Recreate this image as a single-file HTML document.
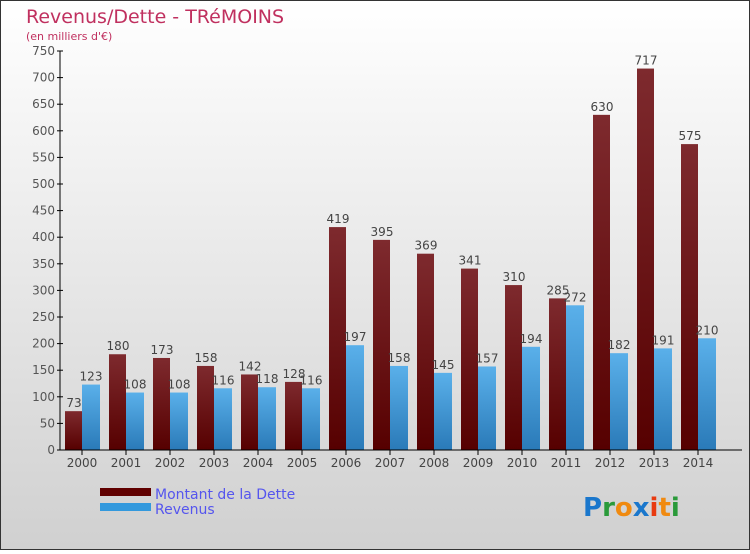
<!DOCTYPE html>
<html><head><meta charset="utf-8"><style>
body{margin:0}
#c{width:750px;height:550px;position:relative;font-family:"DejaVu Sans","Liberation Sans",sans-serif;}
</style></head><body>
<div id="c">
<svg width="750" height="550" xmlns="http://www.w3.org/2000/svg" id="svg">
<defs>
<linearGradient id="bg" x1="0" y1="0" x2="0" y2="1"><stop offset="0" stop-color="#ffffff"/><stop offset="1" stop-color="#d0d0d0"/></linearGradient>
<linearGradient id="gd" x1="0" y1="0" x2="0" y2="1"><stop offset="0" stop-color="#7e2a2e"/><stop offset="1" stop-color="#560000"/></linearGradient>
<linearGradient id="gr" x1="0" y1="0" x2="0" y2="1"><stop offset="0" stop-color="#5ab0ea"/><stop offset="1" stop-color="#2a7ab8"/></linearGradient>
</defs>
<rect x="0.5" y="0.5" width="749" height="549" fill="url(#bg)" stroke="#333" stroke-width="1"/>
<text x="26" y="23" font-size="19" fill="#c0305f">Revenus/Dette - TRéMOINS</text>
<text x="26" y="40" font-size="11" fill="#c0305f">(en milliers d'€)</text>
<g id="plot"></g>
<rect x="100" y="488" width="51" height="8" fill="#600000"/>
<rect x="100" y="503" width="51" height="8" fill="#3399dd"/>
<text x="155" y="499" font-size="14" fill="#5555ee">Montant de la Dette</text>
<text x="155" y="514" font-size="14" fill="#5555ee">Revenus</text>
<g font-size="26" font-family="'DejaVu Sans',sans-serif" font-weight="bold">
<text x="583" y="516"><tspan fill="#1a77cc">P</tspan><tspan fill="#2a9a3a">r</tspan><tspan fill="#f08a10">o</tspan><tspan fill="#1a77cc">x</tspan><tspan fill="#e83a10">i</tspan><tspan fill="#f08a10">t</tspan><tspan fill="#2a9a3a">i</tspan></text>
</g>
</svg>
</div>
<script>
const years=["2000","2001","2002","2003","2004","2005","2006","2007","2008","2009","2010","2011","2012","2013","2014"];
const dette=[73,180,173,158,142,128,419,395,369,341,310,285,630,717,575];
const revenus=[123,108,108,116,118,116,197,158,145,157,194,272,182,191,210];
const yTicks=[0,50,100,150,200,250,300,350,400,450,500,550,600,650,700,750];
const NS="http://www.w3.org/2000/svg";
const g=document.getElementById('plot');
function y(v){return 450-v*0.532;}
function x(i){return 82+i*44;}
function el(t,a){const e=document.createElementNS(NS,t);for(const k in a)e.setAttribute(k,a[k]);g.appendChild(e);return e;}
yTicks.forEach(t=>{
 const l=el('line',{x1:57,x2:63,y1:y(t),y2:y(t),stroke:'#000'});
 
 
 const tx=el('text',{x:55,y:y(t)+4,'font-size':12,fill:'#555','text-anchor':'end'});
 tx.textContent=t;
 
 
});
years.forEach((yr,i)=>{
 const c=x(i);
 const b1=el('rect',{x:c-17,y:y(dette[i]),width:17,height:450-y(dette[i]),fill:'url(#gd)'});
 
 
 const b2=el('rect',{x:c,y:y(revenus[i]),width:18,height:450-y(revenus[i]),fill:'url(#gr)'});
 
 
 const t1=el('text',{x:c-8,y:y(dette[i])-4,'font-size':12,fill:'#444','text-anchor':'middle'});
 t1.textContent=dette[i];
 
 
 const t2=el('text',{x:c+9,y:y(revenus[i])-4,'font-size':12,fill:'#444','text-anchor':'middle'});
 t2.textContent=revenus[i];
 
 
 const tk=el('line',{x1:c,x2:c,y1:450,y2:455,stroke:'#000'});
 
 
 const xl=el('text',{x:c,y:467,'font-size':12,fill:'#444','text-anchor':'middle'});
 xl.textContent=yr;
 
 
});
const ya=el('line',{x1:60,x2:60,y1:y(750),y2:450,stroke:'#000'});


const xa=el('line',{x1:60,x2:742,y1:450,y2:450,stroke:'#000'});


</script>
</body></html>
